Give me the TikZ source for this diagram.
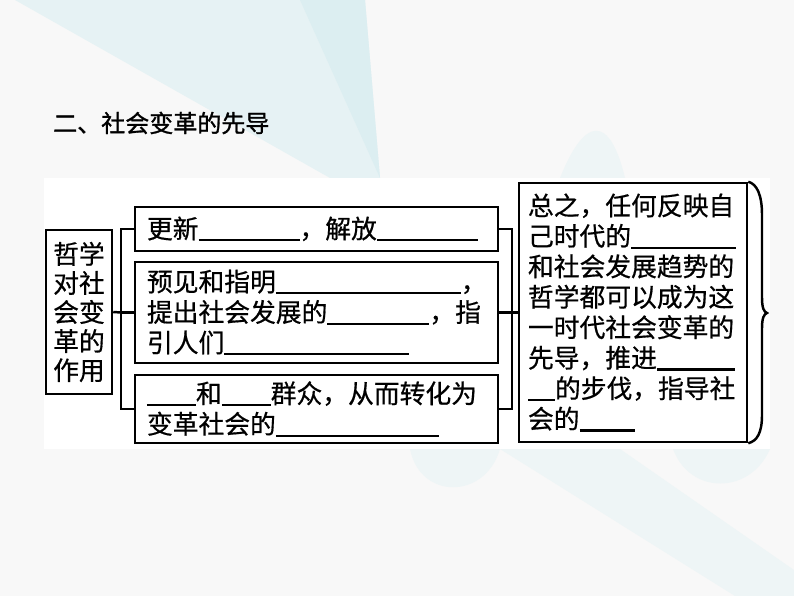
\documentclass[tikz,border=0pt]{standalone}
\usepackage{fontspec}
\newfontfamily\cjk[FakeBold=0.6]{Noto Sans CJK SC}
\newfontfamily\cjkhead[FakeBold=1.2]{Noto Sans CJK SC}
\newlength\pxu
\setlength\pxu{0.03cm}
\newcommand\blank[1]{\rule[-2.6pt]{#1\pxu}{1.8pt}}
\definecolor{pagebg}{HTML}{F8F8F8}
\definecolor{tealA}{HTML}{E6F2F4}
\definecolor{tealB}{HTML}{DCEEF1}
\definecolor{tealC}{HTML}{EEF5F6}
\begin{document}
\begin{tikzpicture}[x=0.03cm, y=-0.03cm,
    link/.style={draw, line width=2.1pt},
    box/.style={draw, line width=2.1pt, align=left, inner ysep=0pt, inner xsep=0.36cm,
        text width=10.17cm, minimum width=10.89cm, font=\cjk\fontsize{22}{26}\selectfont},
    title/.style={anchor=west, inner sep=0pt, font=\cjkhead\fontsize{20.5}{24}\selectfont}]
    \useasboundingbox (0,0) rectangle (794,596);

    % background
    \fill [pagebg] (0,0) rectangle (794,596);
    \fill [tealA] (15,0)--(365,0)--(380,178)--(330,178)--cycle;
    \fill [tealB] (300,0)--(365,0)--(380,178)--cycle;
    \fill [tealC] (560,178) .. controls (585,115) and (610,115) .. (625,178)--cycle;
    \fill [tealC] (410,449) .. controls (420,500) and (485,500) .. (500,449)--cycle;
    \fill [tealC] (500,449)--(620,449)--(794,570)--(794,596)--(735,596)--cycle;
    \fill [tealC] (673,449) .. controls (690,495) and (750,495) .. (770,449)--cycle;
    \fill [white] (44,178) rectangle (770,449);

    \node [title] (head) at (53,123) {二、社会变革的先导};

    % boxes
    \node [draw, line width=2.1pt, align=center, inner xsep=0.21cm, text width=1.56cm,
        minimum height=4.92cm, font=\cjk\fontsize{22}{24.8}\selectfont]
        (role) at (79,312) {哲学\\对社\\会变\\革的\\作用};
    \node [box, minimum height=1.32cm] (renew) at (316.5,229)
        {更新\blank{101}，解放\blank{101}};
    \node [box, minimum height=3.03cm] (foresee) at (316.5,312.5)
        {预见和指明\blank{185}，\\提出社会发展的\blank{102}，指\\引人们\blank{185}};
    \node [box, minimum height=2.04cm] (masses) at (316.5,409)
        {\blank{49}和\blank{49}群众，从而转化为\\变革社会的\blank{163}};
    \node [box, inner xsep=0.27cm, text width=6.3cm, minimum width=6.84cm, minimum height=7.77cm]
        (sum) at (633,312.5)
        {总之，任何反映自\\己时代的\blank{105}\\和社会发展趋势的\\哲学都可以成为这\\一时代社会变革的\\先导，推进\blank{78}\\\blank{27}的步伐，指导社\\会的\blank{55}};

    % brackets
    \coordinate (jl) at (121,312.5);
    \coordinate (jr) at (512,312.5);
    \path [link] (role.east)--(jl);
    \path [link] (renew.west) -| (jl) |- (masses.west);
    \path [link] (jl)--(foresee.west);
    \path [link] (renew.east) -| (jr) |- (masses.east);
    \path [link] (foresee.east)--(sum.west);

    % brace
    \coordinate (tip) at (767,313);
    \path [link] (sum.north east) .. controls (757,184) and (762,195) .. (762,215)--(762,298)
        .. controls (762,308) and (764,312) .. (tip)
        .. controls (764,314) and (762,318) .. (762,328)--(762,415)
        .. controls (762,433) and (757,441) .. (sum.south east);
\end{tikzpicture}
\end{document}
